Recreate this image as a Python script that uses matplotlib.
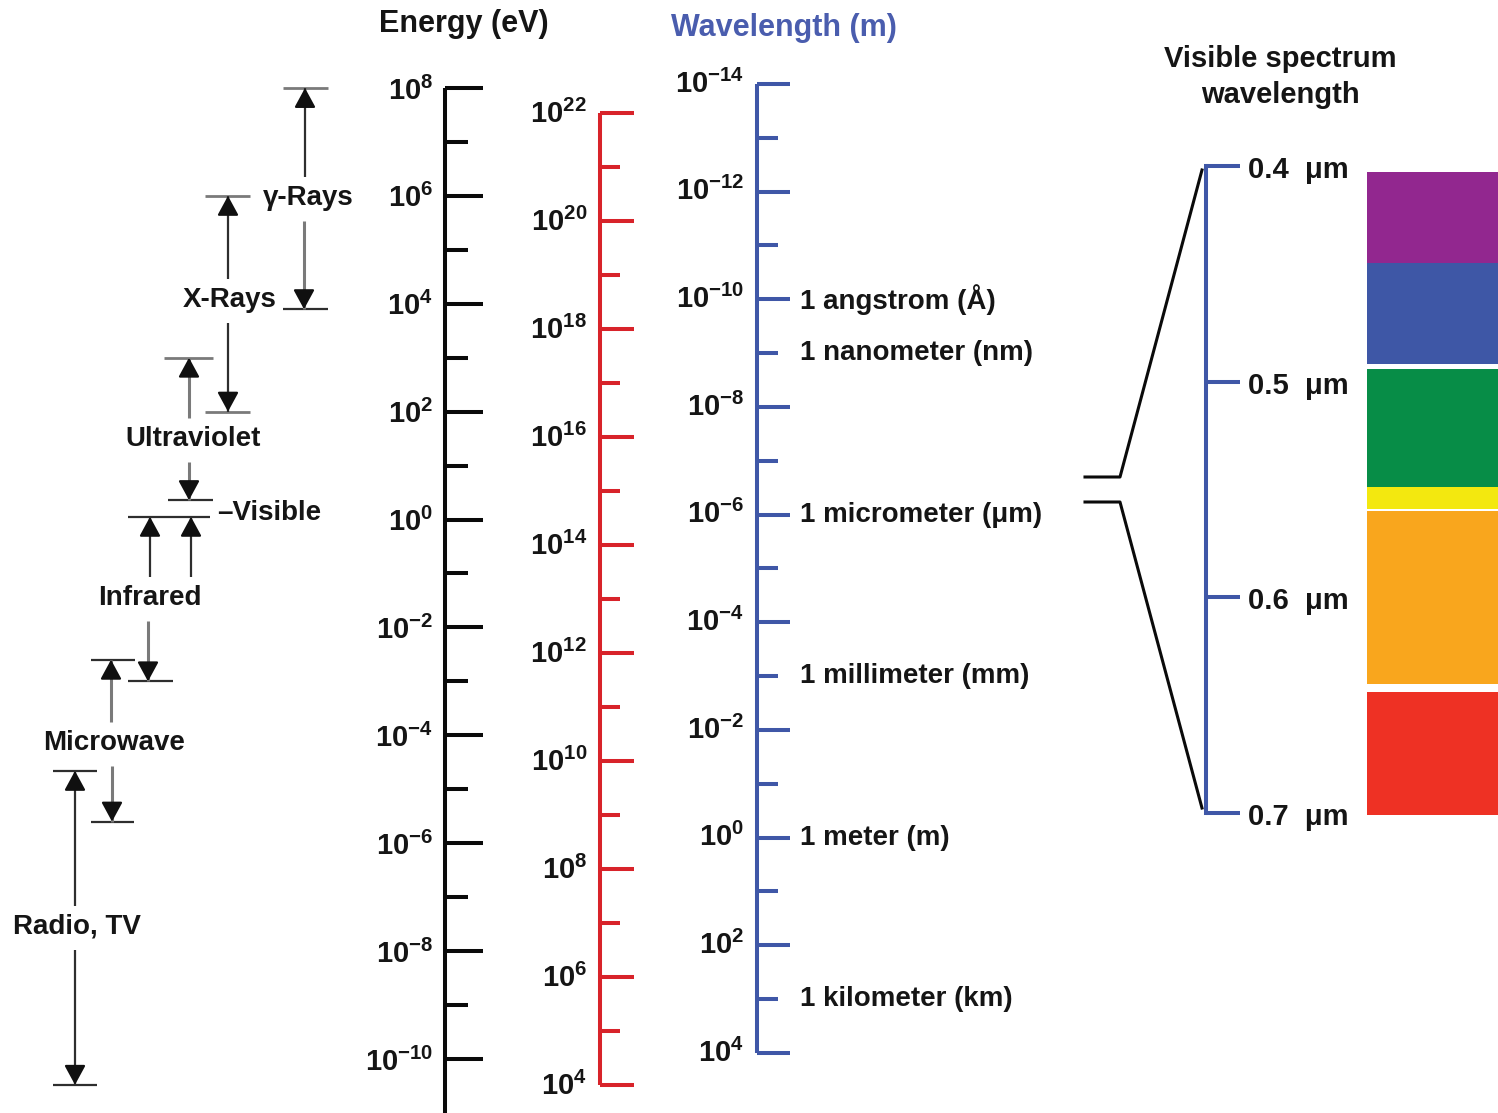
import numpy as np
import matplotlib.pyplot as plt

plt.rcParams['font.family'] = ['Liberation Sans', 'DejaVu Sans']
plt.rcParams['mathtext.fontset'] = 'custom'
plt.rcParams['mathtext.rm'] = 'Liberation Sans:bold'
plt.rcParams['mathtext.bf'] = 'Liberation Sans:bold'
plt.rcParams['mathtext.default'] = 'bf'

# --- scale exponents -------------------------------------------------------
energy_major = [8, 6, 4, 2, 0, -2, -4, -6, -8, -10]        # log10(eV)
energy_minor = [7, 5, 3, 1, -1, -3, -5, -7, -9]
freq_major = [22, 20, 18, 16, 14, 12, 10, 8, 6, 4]          # log10(Hz)
freq_minor = [21, 19, 17, 15, 13, 11, 9, 7, 5]
wave_major = [-14, -12, -10, -8, -6, -4, -2, 0, 2, 4]       # log10(m)
wave_minor = [-13, -11, -9, -7, -5, -3, -1, 1, 3]

unit_exp = [-10, -9, -6, -3, 0, 3]
unit_names = ['1 angstrom (Å)', '1 nanometer (nm)', '1 micrometer (μm)',
              '1 millimeter (mm)', '1 meter (m)', '1 kilometer (km)']

# --- spectral bands, edges in log10(eV) -------------------------------------
band_names = ['γ-Rays', 'X-Rays', 'Ultraviolet', 'Infrared', 'Microwave', 'Radio, TV']
band_top = [8.0, 6.0, 3.0, 0.05, -2.6, -4.66]
band_bottom = [3.9, 2.0, 0.36, -3.0, -5.6, -10.48]

# --- visible spectrum (micrometres) -----------------------------------------
vis_ticks = [0.4, 0.5, 0.6, 0.7]
vis_start = [0.403, 0.445, 0.494, 0.549, 0.560, 0.644]
vis_end = [0.445, 0.492, 0.549, 0.559, 0.640, 0.701]
vis_colors = ['#92278F', '#3E57A6', '#078D47', '#F3E80F', '#F9A61D', '#EE3124']

BLACK = '#0a0a0a'
RED = '#D8232A'
BLUE = '#3F57A7'
DARK = '#2e2e2e'
GRAY = '#7a7a7a'


def y_energy(e):
    return 88 + (8 - e) * 53.94


def y_freq(f):
    return 113 + (22 - f) * 54.0


def y_wave(w):
    return 84 + (w + 14) * 53.83


def y_vis(um):
    return 166 + (um - 0.4) * 2156.7


fig = plt.figure(figsize=(14.98, 11.13), dpi=100)
ax = fig.add_axes([0, 0, 1, 1])
ax.set_xlim(0, 1498)
ax.set_ylim(1113, 0)
ax.axis('off')


def draw_scale(x, ymap, major, minor, color, top, bottom, lmaj, lmin, label_x, label_dy):
    ax.plot([x, x], [ymap(top), ymap(bottom)], color=color, lw=2.9, solid_capstyle='butt')
    for e in major:
        ax.plot([x, x + lmaj], [ymap(e)] * 2, color=color, lw=2.9, solid_capstyle='butt')
        ax.text(label_x, ymap(e) + label_dy, rf'$10^{{{e}}}$', ha='right', va='center',
                fontsize=21, color='#151515')
    for e in minor:
        ax.plot([x, x + lmin], [ymap(e)] * 2, color=color, lw=2.9, solid_capstyle='butt')


# energy, frequency and wavelength scales
draw_scale(445, y_energy, energy_major, energy_minor, BLACK, 8, -11, 38, 23, 433, 3)
draw_scale(600, y_freq, freq_major, freq_minor, RED, 22, 4, 34, 20, 587, 1)
draw_scale(757, y_wave, wave_major, wave_minor, BLUE, -14, 4, 33, 21, 744, 0)

for e, name in zip(unit_exp, unit_names):
    ax.text(800, y_wave(e), name, ha='left', va='center', fontsize=20,
            fontweight='bold', color='#151515')

ax.text(464, 24, 'Energy (eV)', ha='center', va='center', fontsize=22,
        fontweight='bold', color='#151515')
ax.text(784, 28, 'Wavelength (m)', ha='center', va='center', fontsize=22,
        fontweight='bold', color='#4A5DAE')


# --- band brackets on the left ---------------------------------------------
def arrow(x, y_from, y_to, color):
    ax.plot([x, x], [y_from, y_to], color=color, lw=2.2 if color == GRAY else 1.6,
            solid_capstyle='butt')
    step = 16 if y_from > y_to else -16
    ax.annotate('', xy=(x, y_to), xytext=(x, y_to + step),
                arrowprops=dict(arrowstyle='-|>,head_length=0.7,head_width=0.38',
                                color='#101010', lw=1.6, shrinkA=0, shrinkB=0,
                                mutation_scale=17))


def bar(x0, x1, y, color):
    ax.plot([x0, x1], [y, y], color=color, lw=2.0 if color == GRAY else 1.6,
            solid_capstyle='butt')


# x of the up arrows, x of the down arrow, bar spans, label x, label nudge,
# and shaft colours (up, down, top bar, bottom bar)
up_x = [[305], [228], [189], [150, 191], [111], [75]]
down_x = [304, 228, 189, 148, 112, 75]
top_span = [(283, 328), (205, 250), (164, 213), (128, 210), (91, 135), (53, 97)]
bot_span = [(283, 328), (205, 250), (168, 213), (128, 173), (91, 134), (53, 97)]
label_x = [308, 230, 193, 150, 114, 77]
label_dy = [-1, -4, 10, -1, 2, -1]
shade = [(DARK, GRAY, GRAY, DARK), (DARK, DARK, GRAY, GRAY), (GRAY, GRAY, GRAY, DARK),
         (DARK, GRAY, DARK, DARK), (GRAY, GRAY, DARK, DARK), (DARK, DARK, DARK, DARK)]
gap = 23

for i, name in enumerate(band_names):
    yt, yb = y_energy(band_top[i]), y_energy(band_bottom[i])
    ly = (yt + yb) / 2 + label_dy[i]
    c_up, c_dn, c_top, c_bot = shade[i]
    bar(*top_span[i], yt, c_top)
    bar(*bot_span[i], yb, c_bot)
    for x in up_x[i]:
        arrow(x, ly - gap + 2, yt, c_up)
    arrow(down_x[i], ly + gap, yb, c_dn)
    ax.text(label_x[i], ly, name, ha='center', va='center', fontsize=20,
            fontweight='bold', color='#151515')

ax.text(217, (y_energy(band_bottom[2]) + y_energy(band_top[3])) / 2 + 5, '\u2013Visible',
        ha='left', va='center', fontsize=20, fontweight='bold', color='#151515')

# --- visible spectrum zoom ---------------------------------------------------
ax.plot([1085, 1120, 1202], [477, 477, y_vis(0.4) + 4], color=BLACK, lw=2.2)
ax.plot([1085, 1120, 1202], [502, 502, y_vis(0.7) - 5], color=BLACK, lw=2.2)

ax.plot([1206, 1206], [y_vis(0.4), y_vis(0.7)], color=BLUE, lw=2.9, solid_capstyle='projecting')
for t in vis_ticks:
    ax.plot([1206, 1240], [y_vis(t)] * 2, color=BLUE, lw=2.9, solid_capstyle='butt')
    ax.text(1248, y_vis(t) + 4, f'{t:.1f}  μm', ha='left', va='center', fontsize=21,
            fontweight='bold', color='#151515')

for s, e, c in zip(vis_start, vis_end, vis_colors):
    ax.bar(1367, y_vis(e) - y_vis(s), width=1498 - 1367, bottom=y_vis(s),
           align='edge', color=c, linewidth=0)

ax.text(1280, 77, 'Visible spectrum\nwavelength', ha='center', va='center',
        fontsize=21, fontweight='bold', color='#151515', linespacing=1.35)

fig.savefig('out.png', dpi=100)
